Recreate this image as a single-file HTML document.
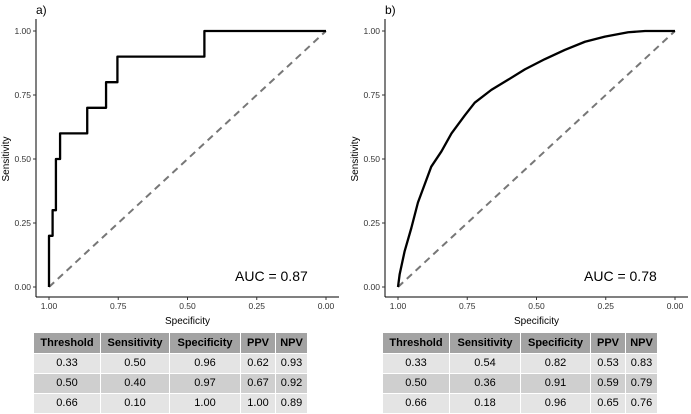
<!DOCTYPE html>
<html><head><meta charset="utf-8"><style>
body{margin:0;width:691px;height:413px;background:#fff;overflow:hidden;font-family:"Liberation Sans",sans-serif}
svg{position:absolute;left:0;top:0}
table{position:absolute;border-collapse:collapse;font-size:11px;text-align:center}
td,th{border:1px solid #fff;padding:0;height:19px;line-height:19px}
th{background:#a3a3a3;font-weight:bold;height:20px}
tr.r1 td,tr.r3 td{background:#e4e4e4}
tr.r2 td{background:#cfcfcf}
</style></head><body>
<svg width="691" height="413"></svg>
<table style="left:33px;top:332px;width:275px">
<tr><th style="width:66px">Threshold</th><th style="width:68px">Sensitivity</th><th style="width:70px">Specificity</th><th style="width:34px">PPV</th><th>NPV</th></tr>
<tr class="r1"><td>0.33</td><td>0.50</td><td>0.96</td><td>0.62</td><td>0.93</td></tr>
<tr class="r2"><td>0.50</td><td>0.40</td><td>0.97</td><td>0.67</td><td>0.92</td></tr>
<tr class="r3"><td>0.66</td><td>0.10</td><td>1.00</td><td>1.00</td><td>0.89</td></tr>
</table>
<table style="left:382px;top:332px;width:276px">
<tr><th style="width:66px">Threshold</th><th style="width:70px">Sensitivity</th><th style="width:69px">Specificity</th><th style="width:34px">PPV</th><th>NPV</th></tr>
<tr class="r1"><td>0.33</td><td>0.54</td><td>0.82</td><td>0.53</td><td>0.83</td></tr>
<tr class="r2"><td>0.50</td><td>0.36</td><td>0.91</td><td>0.59</td><td>0.79</td></tr>
<tr class="r3"><td>0.66</td><td>0.18</td><td>0.96</td><td>0.65</td><td>0.76</td></tr>
</table>
<script>
const tickValues=[1.00,0.75,0.50,0.25,0.00];
const tickLabels=["1.00","0.75","0.50","0.25","0.00"];
const specA=[1,1,0.987,0.987,0.975,0.975,0.96,0.96,0.862,0.862,0.794,0.794,0.753,0.753,0.439,0.439,0];
const sensA=[0,0.2,0.2,0.3,0.3,0.5,0.5,0.6,0.6,0.7,0.7,0.8,0.8,0.9,0.9,1,1];
const specB=[1,0.994,0.976,0.952,0.928,0.904,0.88,0.843,0.807,0.759,0.723,0.663,0.602,0.542,0.47,0.398,0.325,0.253,0.169,0.108,0];
const sensB=[0,0.05,0.14,0.23,0.33,0.40,0.47,0.53,0.60,0.67,0.72,0.77,0.81,0.85,0.89,0.926,0.958,0.978,0.995,1,1];
const aucLabels=["AUC = 0.87","AUC = 0.78"];
const panelLabels=["a)","b)"];
const svg=document.querySelector('svg');
const NS='http://www.w3.org/2000/svg';
function mk(t,a,p){const e=document.createElementNS(NS,t);for(const k in a)e.setAttribute(k,a[k]);(p||svg).appendChild(e);return e;}
const panels=[{axX:36,x0:49,x1:326,spec:specA,sens:sensA},{axX:385,x0:398,x1:675,spec:specB,sens:sensB}];
const y0=287,y1=31,axY=297;
panels.forEach((p,i)=>{
 const g=mk('g',{});
 
 
 const sx=v=>p.x1+(p.x0-p.x1)*v, sy=v=>y0+(y1-y0)*v;
 const t=mk('text',{x:p.axX,y:14,'font-size':12},g);t.textContent=panelLabels[i];
 
 const ya=mk('line',{x1:p.axX,y1:19,x2:p.axX,y2:axY,stroke:'#000','stroke-width':1},g);
 
 const xa=mk('line',{x1:p.axX,y1:axY,x2:p.x1+13,y2:axY,stroke:'#000','stroke-width':1},g);
 
 tickValues.forEach((v,j)=>{
  mk('line',{x1:p.axX-3,x2:p.axX,y1:sy(v),y2:sy(v),stroke:'#333'},g);
  const yl=mk('text',{x:p.axX-5,y:sy(v)+3,'font-size':8.5,'text-anchor':'end',fill:'#333'},g);yl.textContent=tickLabels[j];
  
  mk('line',{x1:sx(v),x2:sx(v),y1:axY,y2:axY+3,stroke:'#333'},g);
  const xl=mk('text',{x:sx(v),y:axY+12,'font-size':8.5,'text-anchor':'middle',fill:'#333'},g);xl.textContent=tickLabels[j];
  
 });
 const xt=mk('text',{x:(p.x0+p.x1)/2,y:324,'font-size':10,'text-anchor':'middle'},g);xt.textContent='Specificity';
 
 const yt=mk('text',{x:0,y:0,'font-size':10,'text-anchor':'middle',transform:`translate(${p.axX-27},${(y0+y1)/2}) rotate(-90)`},g);yt.textContent='Sensitivity';
 
 const dg=mk('line',{x1:sx(1),y1:sy(0),x2:sx(0),y2:sy(1),stroke:'#777','stroke-width':2,'stroke-dasharray':'7,5'},g);
 
 const pts=p.spec.map((s,k)=>sx(s)+','+sy(p.sens[k])).join(' ');
 const pl=mk('polyline',{points:pts,fill:'none',stroke:'#000','stroke-width':2.3,'stroke-linejoin':'round'},g);
 
 const at=mk('text',{x:p.x0+186,y:281,'font-size':14,'text-anchor':'start'},g);at.textContent=aucLabels[i];
 
});
</script>
</body></html>
